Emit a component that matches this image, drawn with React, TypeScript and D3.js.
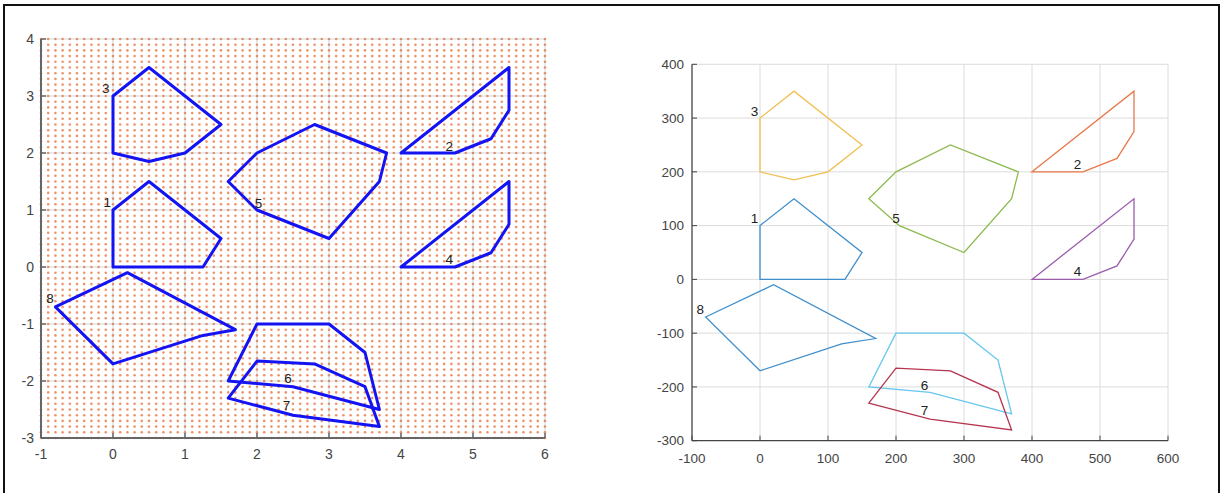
import React from "react";
import * as d3 from "d3";

const W = 1226;
const H = 493;
const font = "'Liberation Sans', Arial, sans-serif";

// left panel polygons (units)
const left1: [number, number][] = [[0, 0], [0, 1], [0.5, 1.5], [1.5, 0.5], [1.25, 0]];
const left2: [number, number][] = [[4, 2], [5.5, 3.5], [5.5, 2.75], [5.25, 2.25], [4.75, 2]];
const left3: [number, number][] = [[0, 2], [0, 3], [0.5, 3.5], [1.5, 2.5], [1, 2], [0.5, 1.85]];
const left4: [number, number][] = [[4, 0], [5.5, 1.5], [5.5, 0.75], [5.25, 0.25], [4.75, 0]];
const left5: [number, number][] = [[1.6, 1.5], [2, 2], [2.8, 2.5], [3.8, 2], [3.7, 1.5], [3, 0.5], [2, 1]];
const left6: [number, number][] = [[1.6, -2], [2, -1], [3, -1], [3.5, -1.5], [3.7, -2.5], [2.5, -2.1]];
const left7: [number, number][] = [[1.6, -2.3], [2, -1.65], [2.8, -1.7], [3.5, -2.1], [3.7, -2.8], [2.5, -2.6]];
const left8: [number, number][] = [[-0.8, -0.7], [0.2, -0.1], [1.7, -1.1], [1.25, -1.2], [0, -1.7]];
const leftLabels: [number, number][] = [
  [-0.08, 1.13], [4.67, 2.12], [-0.1, 3.14], [4.67, 0.13],
  [2.02, 1.12], [2.43, -1.95], [2.41, -2.43], [-0.875, -0.55]
];
const leftXTicks = [-1, 0, 1, 2, 3, 4, 5, 6];
const leftYTicks = [-3, -2, -1, 0, 1, 2, 3, 4];

// right panel polygons
const right1: [number, number][] = [[0, 0], [0, 100], [50, 150], [150, 50], [125, 0]];
const right2: [number, number][] = [[400, 200], [550, 350], [550, 275], [525, 225], [475, 200]];
const right3: [number, number][] = [[0, 200], [0, 300], [50, 350], [150, 250], [100, 200], [50, 185]];
const right4: [number, number][] = [[400, 0], [550, 150], [550, 75], [525, 25], [475, 0]];
const right5: [number, number][] = [[160, 150], [200, 200], [280, 250], [380, 200], [370, 150], [300, 50], [205, 100]];
const right6: [number, number][] = [[160, -200], [200, -100], [300, -100], [350, -150], [370, -250], [250, -210]];
const right7: [number, number][] = [[160, -230], [200, -165], [280, -170], [350, -210], [370, -280], [250, -260]];
const right8: [number, number][] = [[-80, -70], [20, -10], [170, -110], [120, -120], [0, -170]];
const rightLabels: [number, number][] = [
  [-8, 113], [467, 214], [-8, 313], [467, 15],
  [200, 113], [242, -196], [242, -243], [-88, -56]
];
const rightColors = ["#3f8fcc", "#e8794a", "#f0c050", "#9c5cac", "#8cba4e", "#66c6ee", "#b5344e", "#3f8fcc"];
const rightXTicks = [-100, 0, 100, 200, 300, 400, 500, 600];
const rightYTicks = [-300, -200, -100, 0, 100, 200, 300, 400];

const leftPolys = [left1, left2, left3, left4, left5, left6, left7, left8];
const rightPolys = [right1, right2, right3, right4, right5, right6, right7, right8];

function LeftPanel() {
  const x = d3.scaleLinear().domain([-1, 6]).range([41, 545]);
  const y = d3.scaleLinear().domain([-3, 4]).range([438, 39]);
  const line = d3.line<[number, number]>().x(d => x(d[0])).y(d => y(d[1])).curve(d3.curveLinearClosed);
  const dotX = d3.range(-10, 61).map(i => i / 10);
  const dotY = d3.range(-30, 41).map(i => i / 10);
  return (
    <g>
      {dotY.map(dy =>
        dotX.map(dx => (
          <circle key={dx + "_" + dy} cx={x(dx)} cy={y(dy)} r={1.3} fill="#ee946c" />
        ))
      )}
      {leftXTicks.slice(1).map(t => (
        <line key={"gx" + t} x1={x(t)} x2={x(t)} y1={y(-3)} y2={y(4)} stroke="#888" strokeOpacity={0.35} />
      ))}
      {leftYTicks.slice(1).map(t => (
        <line key={"gy" + t} x1={x(-1)} x2={x(6)} y1={y(t)} y2={y(t)} stroke="#888" strokeOpacity={0.35} />
      ))}
      {leftPolys.map((p, i) => (
        <path key={i} d={line(p) || ""} fill="none" stroke="#1414f2" strokeWidth={3} strokeLinejoin="round" />
      ))}
      {leftLabels.map((l, i) => (
        <text key={i} x={x(l[0])} y={y(l[1])} dy="0.35em" textAnchor="middle" fontSize={13.5} fill="#222" fontFamily={font}>
          {i + 1}
        </text>
      ))}
      <line x1={x(-1)} x2={x(-1)} y1={y(-3)} y2={y(4)} stroke="#666" strokeWidth={2} />
      <line x1={x(-1)} x2={x(6)} y1={y(-3)} y2={y(-3)} stroke="#666" strokeWidth={2} />
      {leftXTicks.map(t => (
        <g key={"xt" + t}>
          <line x1={x(t)} x2={x(t)} y1={y(-3)} y2={y(-3) - 5} stroke="#666" strokeWidth={1.5} />
          <text x={x(t)} y={y(-3) + 21} textAnchor="middle" fontSize={14} fill="#444" fontFamily={font}>
            {t}
          </text>
        </g>
      ))}
      {leftYTicks.map(t => (
        <g key={"yt" + t}>
          <line x1={x(-1)} x2={x(-1) + 5} y1={y(t)} y2={y(t)} stroke="#666" strokeWidth={1.5} />
          <text x={x(-1) - 7} y={y(t)} dy="0.35em" textAnchor="end" fontSize={14} fill="#444" fontFamily={font}>
            {t}
          </text>
        </g>
      ))}
    </g>
  );
}

function RightPanel() {
  const x = d3.scaleLinear().domain([-100, 600]).range([692, 1168]);
  const y = d3.scaleLinear().domain([-300, 400]).range([440.7, 64.3]);
  const line = d3.line<[number, number]>().x(d => x(d[0])).y(d => y(d[1])).curve(d3.curveLinearClosed);
  return (
    <g>
      {rightXTicks.slice(1).map(t => (
        <line key={"gx" + t} x1={x(t)} x2={x(t)} y1={y(-300)} y2={y(400)} stroke="#dcdcdc" />
      ))}
      {rightYTicks.slice(1).map(t => (
        <line key={"gy" + t} x1={x(-100)} x2={x(600)} y1={y(t)} y2={y(t)} stroke="#dcdcdc" />
      ))}
      {rightPolys.map((p, i) => (
        <path key={i} d={line(p) || ""} fill="none" stroke={rightColors[i]} strokeWidth={1.3} />
      ))}
      {rightLabels.map((l, i) => (
        <text key={i} x={x(l[0])} y={y(l[1])} dy="0.35em" textAnchor="middle" fontSize={13.5} fill="#222" fontFamily={font}>
          {i + 1}
        </text>
      ))}
      <line x1={x(-100)} x2={x(-100)} y1={y(-300)} y2={y(400)} stroke="#444" strokeWidth={1.3} />
      <line x1={x(-100)} x2={x(600)} y1={y(-300)} y2={y(-300)} stroke="#444" strokeWidth={1.3} />
      {rightXTicks.map(t => (
        <g key={"xt" + t}>
          <line x1={x(t)} x2={x(t)} y1={y(-300)} y2={y(-300) - 5} stroke="#444" />
          <text x={x(t)} y={y(-300) + 22} textAnchor="middle" fontSize={13.5} fill="#444" fontFamily={font}>
            {t}
          </text>
        </g>
      ))}
      {rightYTicks.map(t => (
        <g key={"yt" + t}>
          <line x1={x(-100)} x2={x(-100) + 5} y1={y(t)} y2={y(t)} stroke="#444" />
          <text x={x(-100) - 8} y={y(t)} dy="0.35em" textAnchor="end" fontSize={13.5} fill="#444" fontFamily={font}>
            {t}
          </text>
        </g>
      ))}
    </g>
  );
}

export default function App() {
  return (
    <svg width={W} height={H} style={{ position: "absolute", left: 0, top: 0, background: "#fff" }}>
      <rect x={0} y={0} width={W} height={H} fill="#fff" />
      <rect x={4} y={5} width={1215} height={495} fill="none" stroke="#111" strokeWidth={2} />
      <LeftPanel />
      <RightPanel />
    </svg>
  );
}
